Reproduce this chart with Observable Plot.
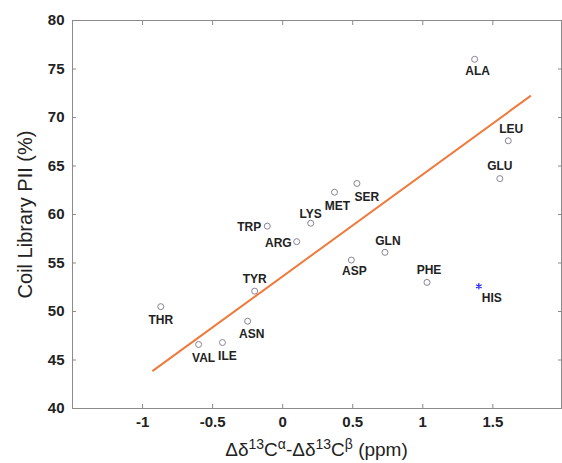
<!DOCTYPE html>
<html><head><meta charset="utf-8">
<script src="https://cdn.jsdelivr.net/npm/d3@7"></script>
<script src="https://cdn.jsdelivr.net/npm/@observablehq/plot@0.6"></script>
<style>
body{margin:0;background:#fff;font-family:"Liberation Sans",Arial,sans-serif;overflow:hidden;}
#chart svg{display:block;}
#xlabel{width:489px;padding-left:72px;padding-top:0;text-align:center;font-size:19px;line-height:20px;height:20px;color:#222;white-space:nowrap;}
#xlabel sup{font-size:14px;vertical-align:0.5em;line-height:0;}
</style></head><body>
<div id="chart"></div>
<div id="xlabel">&Delta;&delta;<sup>13</sup>C<sup>&alpha;</sup>-&Delta;&delta;<sup>13</sup>C<sup>&beta;</sup> (ppm)</div>
<script>
// data
const residues   = ["ALA","LEU","GLU","SER","MET","GLN","ASP","PHE","HIS","TRP","LYS","ARG","TYR","THR","ASN","VAL","ILE"];
const deltaShift = [1.37, 1.61, 1.55, 0.53, 0.37, 0.73, 0.49, 1.03, 1.40, -0.11, 0.20, 0.10, -0.20, -0.87, -0.25, -0.60, -0.43];
const piiPercent = [76.0, 67.6, 63.7, 63.2, 62.3, 56.1, 55.3, 53.0, 52.6, 58.8, 59.1, 57.2, 52.1, 50.5, 49.0, 46.6, 46.8];
const fitX = [-0.925, 1.767];
const fitY = [43.9, 72.2];
const xTicks = [-1, -0.5, 0, 0.5, 1, 1.5];
const yTicks = [40, 45, 50, 55, 60, 65, 70, 75, 80];

// label placement (style, not data)
const place = {
  ALA:[3,12,"middle"], LEU:[3,-12,"middle"], GLU:[0,-12,"middle"], SER:[10,14,"middle"],
  MET:[3,14,"middle"], GLN:[3,-11,"middle"], ASP:[3,11,"middle"], PHE:[2,-12,"middle"],
  HIS:[13,12,"middle"], TRP:[-6,1,"end"], LYS:[0,-9,"middle"], ARG:[-5,1,"end"],
  TYR:[0,-12,"middle"], THR:[0,14,"middle"], ASN:[4,13,"middle"], VAL:[5,14,"middle"], ILE:[5,14,"middle"]
};

const rows = residues.map((r,i)=>({name:r, x:deltaShift[i], y:piiPercent[i]}));
const fit = fitX.map((x,i)=>({x, y:fitY[i]}));
const frameColor = "#8a8a8a";
const fmt = d => String(d);

const labels = rows.map(d => {
  const [dx,dy,anchor] = place[d.name];
  return Plot.text([d], {x:"x", y:"y", text:"name", dx, dy, textAnchor:anchor,
    fontSize:12, fontWeight:"bold", fill:"#222"});
});

const chart = Plot.plot({
  width:562, height:440,
  marginLeft:72, marginRight:1, marginTop:20, marginBottom:32,
  style:{fontFamily:"'Liberation Sans', Arial, sans-serif", background:"#fff"},
  x:{domain:[-1.5,1.99]},
  y:{domain:[40,80]},
  marks:[
    Plot.frame({stroke:frameColor}),
    Plot.axisY(yTicks, {anchor:"left", tickSize:0, tickPadding:8, tickFormat:fmt, fontSize:15, fontWeight:"bold", fill:"#222", label:null}),
    Plot.axisY(yTicks, {anchor:"left", tickSize:4, dx:4, tickFormat:()=>"", label:null, stroke:frameColor}),
    Plot.axisY(yTicks, {anchor:"right", tickSize:4, dx:-4, tickFormat:()=>"", label:null, stroke:frameColor}),
    Plot.axisX(xTicks, {anchor:"bottom", tickSize:0, tickPadding:8, tickFormat:fmt, fontSize:15, fontWeight:"bold", fill:"#222", label:null}),
    Plot.axisX(xTicks, {anchor:"bottom", tickSize:4, dy:-4, tickFormat:()=>"", label:null, stroke:frameColor}),
    Plot.axisX(xTicks, {anchor:"top", tickSize:4, dy:4, tickFormat:()=>"", label:null, stroke:frameColor}),
    Plot.text(["Coil Library PII (%)"], {frameAnchor:"left", textAnchor:"middle", rotate:-90, dx:-47, fontSize:20, fill:"#222"}),
    Plot.line(fit, {x:"x", y:"y", stroke:"#f07a3c", strokeWidth:2}),
    Plot.dot(rows.filter(d=>d.name!=="HIS"), {x:"x", y:"y", r:3, stroke:"#8a8296", strokeWidth:1, fill:"white"}),
    Plot.dot(rows.filter(d=>d.name==="HIS"), {x:"x", y:"y", r:3, symbol:"asterisk", stroke:"#2a2aff", strokeWidth:1.2}),
    ...labels
  ]
});
document.getElementById("chart").appendChild(chart);
</script>
</body></html>
